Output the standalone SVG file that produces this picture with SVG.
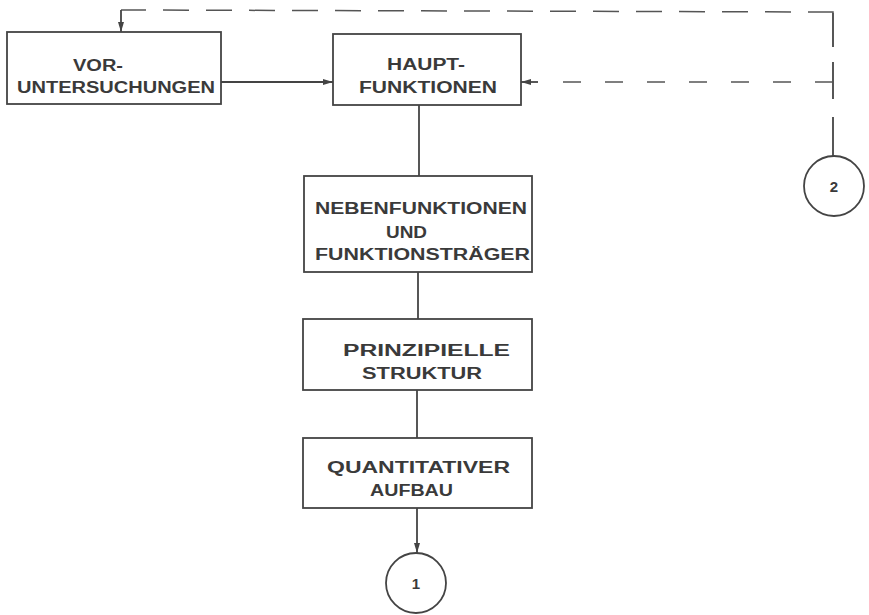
<svg xmlns="http://www.w3.org/2000/svg" width="869" height="615" viewBox="0 0 869 615">
<defs>
<style>
.box{fill:none;stroke:#444;stroke-width:1.8}
.ln{fill:none;stroke:#444;stroke-width:1.8}
.dash{fill:none;stroke:#555;stroke-width:1.5;stroke-dasharray:26 17}
.dash2{fill:none;stroke:#555;stroke-width:1.5;stroke-dasharray:18 24}
.t{font-family:"Liberation Sans","DejaVu Sans",sans-serif;font-size:16px;font-weight:bold;fill:#3a3a3a}
.c{font-family:"Liberation Sans","DejaVu Sans",sans-serif;font-size:15px;font-weight:bold;fill:#3a3a3a;text-anchor:middle}
</style>
<marker id="ah" viewBox="0 0 10 6" refX="10" refY="3" markerWidth="10" markerHeight="6" markerUnits="userSpaceOnUse" orient="auto">
<path d="M0,0 L10,3 L0,6 z" fill="#444"/>
</marker>
</defs>
<rect width="869" height="615" fill="#fff"/>
<g id="connectors">
<line class="ln" x1="221" y1="82" x2="333" y2="82" marker-end="url(#ah)"/>
<polyline class="dash" points="833,13 833,12 121,10"/>
<line class="ln" x1="121" y1="10" x2="121" y2="32" marker-end="url(#ah)"/>
<line class="ln" x1="833" y1="13" x2="833" y2="47"/>
<line class="ln" x1="833" y1="62" x2="833" y2="99"/>
<line class="ln" x1="833" y1="117" x2="833" y2="156"/>
<line class="dash2" x1="833" y1="82" x2="540" y2="82"/>
<line class="ln" x1="538" y1="82" x2="521" y2="82" marker-end="url(#ah)"/>
<line class="ln" x1="419" y1="105" x2="419" y2="176"/>
<line class="ln" x1="418" y1="272" x2="418" y2="319"/>
<line class="ln" x1="417" y1="390" x2="417" y2="438"/>
<line class="ln" x1="417" y1="508" x2="417" y2="553" marker-end="url(#ah)"/>
</g>
<g id="vor">
<rect class="box" x="7" y="32" width="214" height="72"/>
<text class="t" x="73" y="71" textLength="50" lengthAdjust="spacingAndGlyphs">VOR-</text>
<text class="t" x="17" y="93" textLength="198" lengthAdjust="spacingAndGlyphs">UNTERSUCHUNGEN</text>
</g>
<g id="haupt">
<rect class="box" x="333" y="34" width="188" height="71"/>
<text class="t" x="387" y="70" textLength="78" lengthAdjust="spacingAndGlyphs">HAUPT-</text>
<text class="t" x="359" y="93" textLength="138" lengthAdjust="spacingAndGlyphs">FUNKTIONEN</text>
</g>
<g id="neben">
<rect class="box" x="304" y="176" width="228" height="96"/>
<text class="t" x="315" y="214" textLength="212" lengthAdjust="spacingAndGlyphs">NEBENFUNKTIONEN</text>
<text class="t" x="386" y="238" textLength="41" lengthAdjust="spacingAndGlyphs">UND</text>
<text class="t" x="315" y="260" textLength="215" lengthAdjust="spacingAndGlyphs">FUNKTIONSTRÄGER</text>
</g>
<g id="prinz">
<rect class="box" x="303" y="319" width="229" height="71"/>
<text class="t" x="343" y="356" textLength="167" lengthAdjust="spacingAndGlyphs">PRINZIPIELLE</text>
<text class="t" x="362" y="379" textLength="120" lengthAdjust="spacingAndGlyphs">STRUKTUR</text>
</g>
<g id="quant">
<rect class="box" x="303" y="438" width="229" height="70"/>
<text class="t" x="327" y="473" textLength="183" lengthAdjust="spacingAndGlyphs">QUANTITATIVER</text>
<text class="t" x="370" y="496" textLength="83" lengthAdjust="spacingAndGlyphs">AUFBAU</text>
</g>
<g id="c1">
<circle class="box" cx="416" cy="583" r="30"/>
<text class="c" x="416" y="589">1</text>
</g>
<g id="c2">
<circle class="box" cx="834" cy="186" r="30"/>
<text class="c" x="834" y="192">2</text>
</g>
</svg>
